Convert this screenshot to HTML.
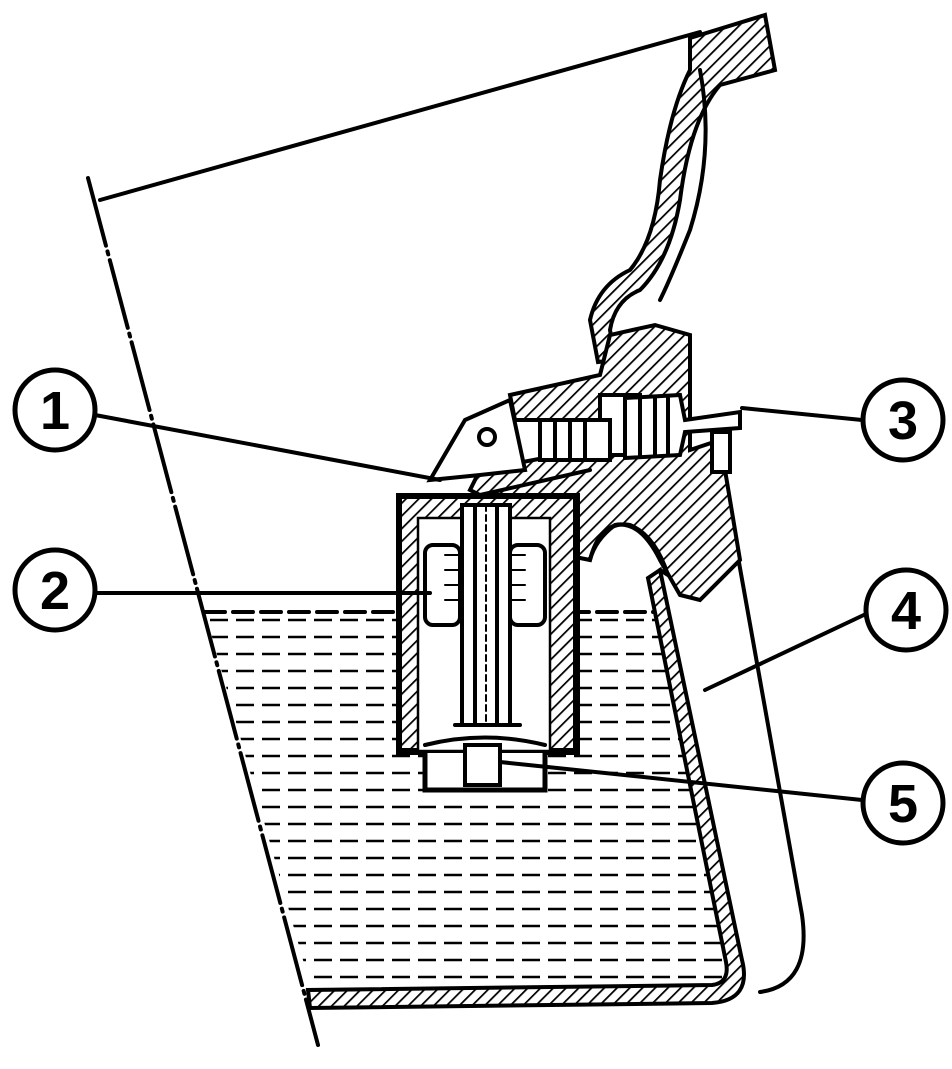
<!DOCTYPE html>
<html><head><meta charset="utf-8"><style>
html,body{margin:0;padding:0;background:#fff;}
svg{display:block;}
text{font-family:"Liberation Sans",sans-serif;font-weight:bold;}
</style></head><body>
<svg width="952" height="1069" viewBox="0 0 952 1069" xmlns="http://www.w3.org/2000/svg">
<defs>
<pattern id="h" width="9" height="9" patternUnits="userSpaceOnUse" patternTransform="rotate(45)">
<rect width="9" height="9" fill="#fff"/><line x1="0" y1="0" x2="0" y2="9" stroke="#000" stroke-width="3.5"/>
</pattern>
<pattern id="d" width="26" height="17" patternUnits="userSpaceOnUse">
<line x1="2" y1="8" x2="20" y2="8" stroke="#000" stroke-width="2.5"/>
</pattern>
<clipPath id="liq"><polygon points="205,612 668,612 738,955 718,985 312,992"/></clipPath>
</defs>
<g fill="none" stroke="#000" stroke-width="4" stroke-linecap="round">
<line x1="100" y1="200" x2="700" y2="32"/>
<line x1="88" y1="178" x2="318" y2="1045" stroke-dasharray="70,6,3,6"/>
<rect x="200" y="610" width="560" height="390" fill="url(#d)" stroke="none" clip-path="url(#liq)"/>
<line x1="205" y1="612" x2="665" y2="612" stroke-dasharray="20,8"/>
<path d="M660,570 L742,960 Q752,1000 712,1003 L310,1008 L308,990 L712,985 Q730,983 726,962 L648,578 Z" fill="url(#h)"/>
<path d="M718,445 L802,915 Q812,985 760,992"/>
<path d="M690,38 L765,15 L775,70 L720,85 Q690,120 680,200 Q670,260 640,290 Q615,300 610,330 L615,360 L598,362 L590,320 Q598,285 630,270 Q655,240 660,180 Q670,110 690,70 Z" fill="url(#h)"/>
<path d="M700,70 Q715,150 690,230 Q670,280 660,300"/>
<path d="M510,395 L600,375 L610,335 L655,325 L690,335 L690,450 L720,440 L740,560 L700,600 L680,595 L660,560 Q640,520 615,525 Q595,540 590,560 L565,555 L560,530 L520,525 L490,500 L470,490 L480,470 L560,455 L540,420 L515,420 Z" fill="url(#h)"/>
<path d="M590,560 Q600,520 630,525 Q655,535 668,575 L660,570"/>
<rect x="600" y="395" width="40" height="60" fill="#fff"/>
<path d="M625,398 L680,395 L685,420 L740,412 L740,428 L685,432 L680,455 L625,458 Z" fill="#fff"/>
<line x1="640" y1="398" x2="640" y2="455"/><line x1="655" y1="398" x2="655" y2="455"/><line x1="668" y1="396" x2="668" y2="455"/>
<rect x="540" y="420" width="70" height="40" fill="#fff"/>
<line x1="555" y1="420" x2="555" y2="460"/><line x1="570" y1="420" x2="570" y2="460"/><line x1="585" y1="420" x2="585" y2="460"/>
<rect x="712" y="432" width="18" height="40" fill="#fff"/>
<path d="M430,480 L465,420 L510,400 L525,470 L480,475 Z" fill="#fff"/>
<circle cx="487" cy="437" r="8"/>
<line x1="480" y1="495" x2="590" y2="470"/>
<path d="M400,497 L575,497 L575,750 L548,750 L548,520 L420,520 L420,750 L400,750 Z" fill="url(#h)"/>
<rect x="398" y="495" width="180" height="258"/>
<rect x="418" y="518" width="132" height="233" fill="#fff" stroke-width="2.5"/>
<rect x="425" y="545" width="35" height="80" rx="8" fill="#fff"/>
<rect x="510" y="545" width="35" height="80" rx="8" fill="#fff"/>
<rect x="462" y="505" width="48" height="220" fill="#fff"/>
<line x1="475" y1="505" x2="475" y2="725"/><line x1="497" y1="505" x2="497" y2="725"/>
<line x1="486" y1="505" x2="486" y2="725" stroke-width="2" stroke-dasharray="6,4"/>
<path d="M445,555 L462,555 M445,570 L462,570 M445,585 L462,585 M445,600 L462,600" stroke-width="2"/>
<path d="M510,555 L525,555 M510,570 L525,570 M510,585 L525,585 M510,600 L525,600" stroke-width="2"/>
<line x1="455" y1="725" x2="520" y2="725"/>
<path d="M425,745 Q485,730 545,745"/>
<path d="M425,753 L425,790 L545,790 L545,753" fill="#fff" stroke-width="5"/>
<rect x="465" y="745" width="35" height="40" fill="#fff"/>
<line x1="95" y1="415" x2="440" y2="480"/>
<line x1="95" y1="593" x2="430" y2="593"/>
<line x1="742" y1="408" x2="862" y2="420"/>
<line x1="705" y1="690" x2="868" y2="613"/>
<line x1="500" y1="762" x2="862" y2="800"/>
<circle cx="55" cy="410" r="40" fill="#fff" stroke-width="5"/>
<circle cx="55" cy="590" r="40" fill="#fff" stroke-width="5"/>
<circle cx="903" cy="420" r="40" fill="#fff" stroke-width="5"/>
<circle cx="906" cy="610" r="40" fill="#fff" stroke-width="5"/>
<circle cx="903" cy="803" r="40" fill="#fff" stroke-width="5"/>
</g>
<g font-size="54" text-anchor="middle">
<text x="55" y="429">1</text>
<text x="55" y="609">2</text>
<text x="903" y="439">3</text>
<text x="906" y="629">4</text>
<text x="903" y="822">5</text>
</g>
</svg>
</body></html>
